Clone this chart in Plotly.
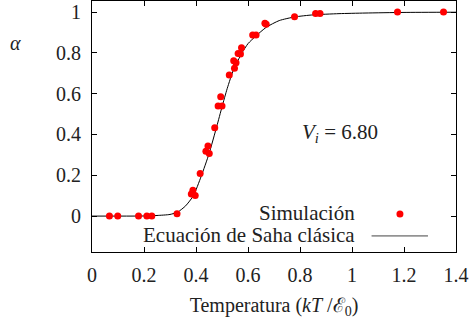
import plotly.graph_objects as go

# Simulation data (temperature kT/E0, ionisation fraction alpha)
sim_T = [0.067, 0.099, 0.179, 0.211, 0.230, 0.327, 0.382, 0.388, 0.397, 0.416,
         0.438, 0.446, 0.451, 0.472, 0.485, 0.500, 0.495, 0.528, 0.545, 0.548,
         0.554, 0.562, 0.575, 0.571, 0.618, 0.631, 0.665, 0.670, 0.779, 0.860,
         0.877, 1.175, 1.352]
sim_alpha = [0.0, 0.0, 0.0, 0.0, 0.0, 0.011, 0.108, 0.127, 0.101, 0.209,
             0.318, 0.343, 0.307, 0.433, 0.539, 0.539, 0.585, 0.691, 0.761, 0.724,
             0.752, 0.797, 0.825, 0.794, 0.887, 0.887, 0.945, 0.940, 0.977, 0.993,
             0.993, 1.0, 1.0]

# Classical Saha equation curve
saha_T = [0.0, 0.15, 0.20, 0.25, 0.30, 0.33, 0.36, 0.39, 0.42, 0.45, 0.48, 0.50,
          0.52, 0.545, 0.577, 0.60, 0.63, 0.67, 0.72, 0.78, 0.85, 0.95, 1.05, 1.2, 1.4]
saha_alpha = [0.0, 0.0, 0.0005, 0.003, 0.008, 0.02, 0.05, 0.10, 0.195, 0.305, 0.44, 0.535,
              0.625, 0.72, 0.80, 0.845, 0.882, 0.925, 0.958, 0.976, 0.986, 0.992, 0.995, 0.998, 0.999]

x_ticks = [0, 0.2, 0.4, 0.6, 0.8, 1, 1.2, 1.4]
x_tick_labels = ["0", "0.2", "0.4", "0.6", "0.8", "1", "1.2", "1.4"]
y_ticks = [0, 0.2, 0.4, 0.6, 0.8, 1]
y_tick_labels = ["0", "0.2", "0.4", "0.6", "0.8", "1"]

FONT = "Liberation Serif, Times New Roman, serif"
TXT = "#222222"
FS = 20

fig = go.Figure()
fig.add_trace(go.Scatter(x=saha_T, y=saha_alpha, mode="lines",
                         line=dict(color="black", width=1, shape="spline", smoothing=0.6),
                         showlegend=False, hoverinfo="skip"))
fig.add_trace(go.Scatter(x=sim_T, y=sim_alpha, mode="markers",
                         marker=dict(color="#ff0000", size=7, line=dict(width=0)),
                         showlegend=False))

axis_common = dict(showline=True, linecolor="black", linewidth=1, mirror="ticks",
                   ticks="inside", ticklen=5, tickcolor="black", showgrid=False,
                   zeroline=False, tickfont=dict(family=FONT, size=FS, color=TXT))

fig.update_xaxes(range=[0, 1.4], tickvals=x_ticks, ticktext=x_tick_labels,
                 ticklabelstandoff=5,
                 title=dict(text="Temperatura (<i>kT</i> /ℰ<sub>0</sub>)",
                            font=dict(family=FONT, size=FS, color=TXT), standoff=12),
                 **axis_common)
fig.update_yaxes(range=[-0.176, 1.054], tickvals=y_ticks, ticktext=y_tick_labels,
                 ticklabelstandoff=6, **axis_common)

annotations = [
    dict(text="<i>α</i>", x=-0.209, y=0.833, xref="paper", yref="paper",
         xanchor="center", yanchor="middle",
         showarrow=False, font=dict(family=FONT, size=FS, color=TXT)),
    dict(text="<i>V<sub>i</sub></i> = 6.80", x=0.681, y=0.474, xref="paper", yref="paper",
         xanchor="center", yanchor="middle",
         showarrow=False, font=dict(family=FONT, size=FS + 1, color=TXT)),
    dict(text="Simulación", x=0.728, y=0.155, xref="paper", yref="paper",
         xanchor="right", yanchor="middle",
         showarrow=False, font=dict(family=FONT, size=FS + 1, color=TXT)),
    dict(text="Ecuación de Saha clásica", x=0.728, y=0.068, xref="paper", yref="paper",
         xanchor="right", yanchor="middle",
         showarrow=False, font=dict(family=FONT, size=FS + 1, color=TXT)),
]

shapes = [
    dict(type="circle", xref="paper", yref="paper", xsizemode="pixel", ysizemode="pixel",
         xanchor=0.846, yanchor=0.151, x0=-3.5, x1=3.5, y0=-3.5, y1=3.5,
         fillcolor="#ff0000", line=dict(width=0)),
    dict(type="line", xref="paper", yref="paper", x0=0.768, x1=0.923, y0=0.064, y1=0.064,
         line=dict(color="#444", width=1)),
]

fig.update_layout(width=470, height=322, margin=dict(l=92, r=14, t=1, b=70),
                  plot_bgcolor="white", paper_bgcolor="white",
                  annotations=annotations, shapes=shapes, showlegend=False)

fig.write_html("out.html")
